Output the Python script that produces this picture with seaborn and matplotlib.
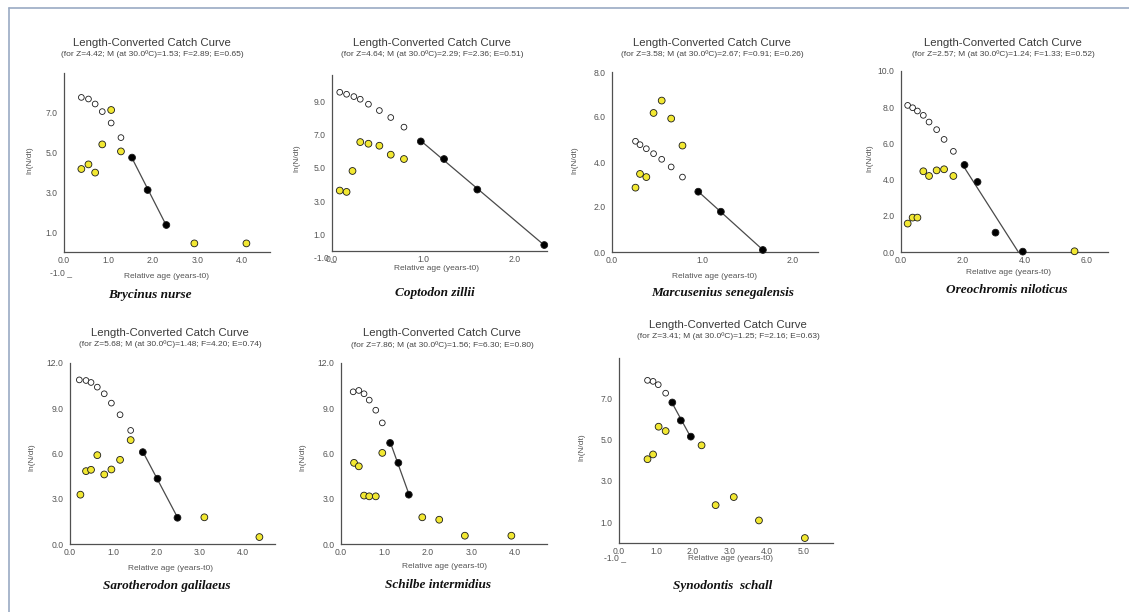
import numpy as np
import pandas as pd
import seaborn as sns
from matplotlib import pyplot as plt
from matplotlib.lines import Line2D

W, H = 1129, 612

species = ["Brycinus nurse", "Coptodon zillii", "Marcusenius senegalensis",
           "Oreochromis niloticus", "Sarotherodon galilaeus",
           "Schilbe intermidius", "Synodontis  schall"]
z_vals = [4.42, 4.64, 3.58, 2.57, 5.68, 7.86, 3.41]
m_vals = [1.53, 2.29, 2.67, 1.24, 1.48, 1.56, 1.25]
f_vals = [2.89, 2.36, 0.91, 1.33, 4.20, 6.30, 2.16]
e_vals = [0.65, 0.51, 0.26, 0.52, 0.74, 0.80, 0.63]

# Brycinus nurse
bn_open_age = [0.39, 0.55, 0.70, 0.86, 1.06, 1.28]
bn_open_ln = [7.73, 7.65, 7.40, 7.02, 6.45, 5.72]
bn_obs_age = [0.39, 0.55, 0.70, 0.86, 1.06, 1.28, 2.93, 4.10]
bn_obs_ln = [4.15, 4.38, 3.97, 5.38, 7.10, 5.03, 0.43, 0.43]
bn_fit_age = [1.53, 1.88, 2.30]
bn_fit_ln = [4.72, 3.10, 1.35]

# Coptodon zillii
cz_open_age = [0.085, 0.16, 0.24, 0.31, 0.40, 0.52, 0.645, 0.79]
cz_open_ln = [9.56, 9.44, 9.30, 9.14, 8.84, 8.46, 8.04, 7.46]
cz_obs_age = [0.085, 0.16, 0.225, 0.31, 0.40, 0.52, 0.645, 0.79]
cz_obs_ln = [3.64, 3.56, 4.82, 6.56, 6.46, 6.34, 5.80, 5.54]
cz_fit_age = [0.975, 1.23, 1.595, 2.33]
cz_fit_ln = [6.60, 5.54, 3.70, 0.36]

# Marcusenius senegalensis
ms_open_age = [0.26, 0.31, 0.38, 0.46, 0.55, 0.655, 0.78]
ms_open_ln = [4.92, 4.77, 4.59, 4.37, 4.12, 3.78, 3.33]
ms_obs_age = [0.26, 0.31, 0.38, 0.46, 0.55, 0.655, 0.78]
ms_obs_ln = [2.86, 3.47, 3.33, 6.18, 6.73, 5.93, 4.73]
ms_fit_age = [0.955, 1.205, 1.67]
ms_fit_ln = [2.68, 1.79, 0.09]

# Oreochromis niloticus
on_open_age = [0.215, 0.375, 0.53, 0.72, 0.905, 1.15, 1.39, 1.69]
on_open_ln = [8.10, 7.97, 7.79, 7.55, 7.18, 6.76, 6.22, 5.56]
on_obs_age = [0.215, 0.375, 0.53, 0.72, 0.905, 1.15, 1.39, 1.69, 5.60]
on_obs_ln = [1.57, 1.90, 1.90, 4.46, 4.20, 4.51, 4.57, 4.20, 0.04]
on_fit_age = [2.05, 2.47, 3.05, 3.93]
on_fit_ln = [4.81, 3.87, 1.07, 0.02]

# Sarotherodon galilaeus
sg_open_age = [0.215, 0.37, 0.485, 0.63, 0.79, 0.955, 1.155, 1.40]
sg_open_ln = [10.88, 10.84, 10.71, 10.40, 9.96, 9.34, 8.57, 7.53]
sg_obs_age = [0.24, 0.37, 0.485, 0.63, 0.79, 0.955, 1.155, 1.40, 3.10, 4.37]
sg_obs_ln = [3.27, 4.83, 4.92, 5.89, 4.61, 4.94, 5.58, 6.89, 1.77, 0.46]
sg_fit_age = [1.68, 2.02, 2.48]
sg_fit_ln = [6.09, 4.33, 1.74]

# Schilbe intermidius
si_open_age = [0.28, 0.41, 0.53, 0.65, 0.80, 0.95]
si_open_ln = [10.09, 10.18, 9.96, 9.54, 8.87, 8.03]
si_obs_age = [0.30, 0.41, 0.53, 0.65, 0.80, 0.95, 1.87, 2.26, 2.85, 3.92]
si_obs_ln = [5.38, 5.15, 3.21, 3.16, 3.16, 6.04, 1.77, 1.61, 0.55, 0.55]
si_fit_age = [1.13, 1.32, 1.56]
si_fit_ln = [6.70, 5.38, 3.27]

# Synodontis schall
ss_open_age = [0.77, 0.92, 1.06, 1.26]
ss_open_ln = [7.86, 7.81, 7.65, 7.24]
ss_obs_age = [0.77, 0.92, 1.07, 1.26, 2.23, 2.61, 3.10, 3.78, 5.02]
ss_obs_ln = [4.05, 4.28, 5.62, 5.41, 4.72, 1.83, 2.22, 1.09, 0.24]
ss_fit_age = [1.44, 1.67, 1.94]
ss_fit_ln = [6.79, 5.92, 5.14]

panel_data = [
    (bn_open_age, bn_open_ln, bn_obs_age, bn_obs_ln, bn_fit_age, bn_fit_ln),
    (cz_open_age, cz_open_ln, cz_obs_age, cz_obs_ln, cz_fit_age, cz_fit_ln),
    (ms_open_age, ms_open_ln, ms_obs_age, ms_obs_ln, ms_fit_age, ms_fit_ln),
    (on_open_age, on_open_ln, on_obs_age, on_obs_ln, on_fit_age, on_fit_ln),
    (sg_open_age, sg_open_ln, sg_obs_age, sg_obs_ln, sg_fit_age, sg_fit_ln),
    (si_open_age, si_open_ln, si_obs_age, si_obs_ln, si_fit_age, si_fit_ln),
    (ss_open_age, ss_open_ln, ss_obs_age, ss_obs_ln, ss_fit_age, ss_fit_ln),
]

# layout in pixels: axes left/right/top/bottom, limits, ticks, text spots
layout = [
    dict(l=64, r=270, t=73, b=252, xmax=4.63, yhi=8.95,
         xt=[0, 1, 2, 3, 4], yt=[1, 3, 5, 7], neg=(72, 273),
         tc=152, ty=43, sy=54, xl=(167, 277), yl=(30, 160), sp=(150, 295)),
    dict(l=332, r=547, t=75, b=251, xmax=2.36, yhi=10.6,
         xt=[0, 1, 2], yt=[1, 3, 5, 7, 9], neg=(336, 258),
         tc=432, ty=43, sy=54, xl=(437, 269), yl=(297, 158), sp=(435, 293)),
    dict(l=612, r=818, t=72, b=252, xmax=2.28, yhi=8.0,
         xt=[0, 1, 2], yt=[0, 2, 4, 6, 8], neg=None,
         tc=712, ty=43, sy=54, xl=(714, 277), yl=(575, 160), sp=(723, 293)),
    dict(l=901, r=1108, t=71, b=252, xmax=6.68, yhi=10.0,
         xt=[0, 2, 4, 6], yt=[0, 2, 4, 6, 8, 10], neg=None,
         tc=1003, ty=43, sy=54, xl=(1008, 273), yl=(870, 158), sp=(1007, 290)),
    dict(l=70, r=275, t=363, b=544, xmax=4.73, yhi=12.0,
         xt=[0, 1, 2, 3, 4], yt=[0, 3, 6, 9, 12], neg=None,
         tc=170, ty=333, sy=344, xl=(170, 568), yl=(32, 457), sp=(167, 586)),
    dict(l=341, r=547, t=363, b=544, xmax=4.74, yhi=12.0,
         xt=[0, 1, 2, 3, 4], yt=[0, 3, 6, 9, 12], neg=None,
         tc=442, ty=333, sy=345, xl=(445, 567), yl=(303, 457), sp=(438, 585)),
    dict(l=619, r=833, t=358, b=543, xmax=5.78, yhi=8.94,
         xt=[0, 1, 2, 3, 4, 5], yt=[1, 3, 5, 7], neg=(626, 558),
         tc=728, ty=325, sy=336, xl=(730, 559), yl=(582, 447), sp=(723, 586)),
]

sns.set_style("white")
plt.rcParams['font.family'] = ['Liberation Sans', 'DejaVu Sans']

fig = plt.figure(figsize=(W / 100, H / 100), dpi=100)

# thin frame on top and left of the picture
fig.add_artist(Line2D([9 / W, 1], [1 - 8 / H, 1 - 8 / H], color='#9aaac4', lw=1.2))
fig.add_artist(Line2D([9 / W, 9 / W], [0, 1 - 8 / H], color='#9aaac4', lw=1.2))

palette = {'open': 'white', 'obs': '#f2e832', 'fit': 'black'}
sizes = {'open': 17, 'obs': 24, 'fit': 24}

for i, lay in enumerate(layout):
    oa, ol, ya, yl_, fa, fl = panel_data[i]
    df = pd.DataFrame({
        'age': list(oa) + list(ya) + list(fa),
        'ln': list(ol) + list(yl_) + list(fl),
        'kind': ['open'] * len(oa) + ['obs'] * len(ya) + ['fit'] * len(fa),
    })
    ax = fig.add_axes([lay['l'] / W, 1 - lay['b'] / H,
                       (lay['r'] - lay['l']) / W, (lay['b'] - lay['t']) / H])
    ax.patch.set_alpha(0)

    sns.regplot(data=df[df['kind'] == 'fit'], x='age', y='ln', ax=ax,
                scatter=False, ci=None, color='#4a4a4a',
                line_kws=dict(lw=0.9))
    sns.scatterplot(data=df, x='age', y='ln', hue='kind', palette=palette,
                    hue_order=['open', 'obs', 'fit'], size='kind', sizes=sizes,
                    ax=ax, edgecolor='#1a1a1a', linewidth=0.6, legend=False,
                    zorder=3, clip_on=False)

    ax.set_xlim(0, lay['xmax'])
    ax.set_ylim(0, lay['yhi'])
    ax.set_xticks(lay['xt'])
    ax.set_yticks(lay['yt'])
    ax.set_xticklabels([f"{v:.1f}" for v in lay['xt']])
    ax.set_yticklabels([f"{v:.1f}" for v in lay['yt']])
    ax.set_xlabel('')
    ax.set_ylabel('')

    for s in ['top', 'right']:
        ax.spines[s].set_visible(False)
    for s in ['left', 'bottom']:
        ax.spines[s].set_color('#505050')
        ax.spines[s].set_linewidth(0.9)
    ax.tick_params(axis='y', length=3, width=0.8, pad=1.5, color='#505050',
                   labelsize=6.2, labelcolor='#555555')
    ax.tick_params(axis='x', length=1.5, width=0.6, pad=1.5, color='#505050',
                   labelsize=6.2, labelcolor='#555555')

    if lay['neg'] is not None:
        fig.text(lay['neg'][0] / W, 1 - lay['neg'][1] / H, '-1.0 _',
                 ha='right', va='center', fontsize=6.2, color='#555555')

    fig.text(lay['tc'] / W, 1 - lay['ty'] / H, 'Length-Converted Catch Curve',
             ha='center', va='center', fontsize=8.2, color='#3a3a3a')
    sub = (f"(for Z={z_vals[i]:.2f}; M (at 30.0\u00baC)={m_vals[i]:.2f}; "
           f"F={f_vals[i]:.2f}; E={e_vals[i]:.2f})")
    fig.text(lay['tc'] / W, 1 - lay['sy'] / H, sub,
             ha='center', va='center', fontsize=6.0, color='#444444')
    fig.text(lay['xl'][0] / W, 1 - lay['xl'][1] / H, 'Relative age (years-t0)',
             ha='center', va='center', fontsize=6.0, color='#555555')
    fig.text(lay['yl'][0] / W, 1 - lay['yl'][1] / H, 'ln(N/dt)', rotation=90,
             ha='center', va='center', fontsize=6.0, color='#555555')
    fig.text(lay['sp'][0] / W, 1 - lay['sp'][1] / H, species[i],
             ha='center', va='center', fontsize=9.5, fontweight='bold',
             fontstyle='italic', family=['Liberation Serif', 'DejaVu Serif'],
             color='#111111')

fig.savefig('out.png', dpi=100)
